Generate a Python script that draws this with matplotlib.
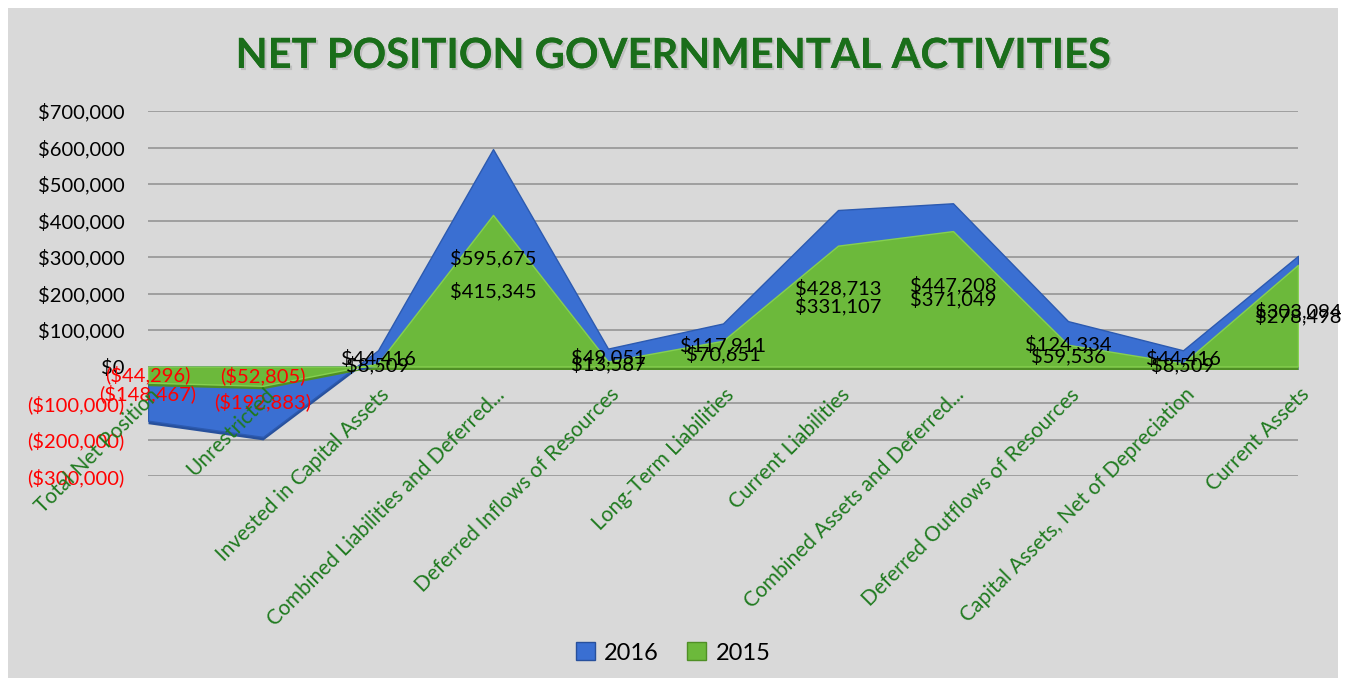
import matplotlib.pyplot as plt
import matplotlib.patheffects as pe
import matplotlib.transforms as mtransforms
from matplotlib.patches import Rectangle
import numpy as np

plt.rcParams['font.family'] = ['Lato', 'DejaVu Sans']

categories = ["Total Net Position", "Unrestricted", "Invested in Capital Assets",
              "Combined Liabilities and Deferred...", "Deferred Inflows of Resources",
              "Long-Term Liabilities", "Current Liabilities",
              "Combined Assets and Deferred...", "Deferred Outflows of Resources",
              "Capital Assets, Net of Depreciation", "Current Assets"]
values_2016 = [-148467, -192883, 44416, 595675, 49051, 117911, 428713, 447208, 124334, 44416, 303094]
values_2015 = [-44296, -52805, 8509, 415345, 13587, 70651, 331107, 371049, 59536, 8509, 278498]
yticks = [-300000, -200000, -100000, 0, 100000, 200000, 300000, 400000, 500000, 600000, 700000]

blue = "#3a6fd2"
green = "#6cb93b"
title_green = "#1a6e1a"
cat_green = "#1f7a1f"


def money(v):
    if v < 0:
        return "(${:,.0f})".format(-v)
    return "${:,.0f}".format(v)


fig = plt.figure(figsize=(13.46, 6.86), dpi=100, facecolor="white")
fig.patches.append(Rectangle((8 / 1346, 8 / 686), 1 - 16 / 1346, 1 - 16 / 686,
                             transform=fig.transFigure, facecolor="#d9d9d9",
                             edgecolor="none", zorder=-5))

ax = fig.add_axes([148 / 1346, 1 - 476 / 686, 1150 / 1346, 365 / 686])
ax.set_facecolor("none")
x = np.arange(len(categories))

for t in yticks:
    ax.axhline(t, color="#9a9a9a", lw=1.3, zorder=1)

# fake 3d depth: darker copy slightly lower
shift = ax.transData + mtransforms.ScaledTranslation(0, -3 / 100, fig.dpi_scale_trans)
ax.fill_between(x, values_2016, 0, color="#27509c", lw=0, zorder=2, transform=shift)
ax.fill_between(x, values_2016, 0, color=blue, edgecolor="#2c5ab0", lw=1, zorder=3)
ax.fill_between(x, values_2015, 0, color="#4f8f25", lw=0, zorder=4, transform=shift)
ax.fill_between(x, values_2015, 0, color=green, edgecolor="#86d050", lw=1, zorder=5)

for xi, v in zip(x, values_2016):
    ax.text(xi, v / 2, money(v), ha="center", va="center", fontsize=14.5,
            color="red" if v < 0 else "black", zorder=7)
for xi, v in zip(x, values_2015):
    ax.text(xi, v / 2, money(v), ha="center", va="center", fontsize=14.5,
            color="red" if v < 0 else "black", zorder=7)

ax.set_xlim(0, len(categories) - 1)
ax.set_ylim(-300000, 700000)
ax.set_yticks(yticks)
ax.set_yticklabels([money(t) for t in yticks], fontsize=14.5)
for lab, t in zip(ax.get_yticklabels(), yticks):
    lab.set_color("red" if t < 0 else "black")
ax.tick_params(axis="y", length=0, pad=17)
ax.set_xticks([])
for s in ax.spines.values():
    s.set_visible(False)

for xi, c in zip(x, categories):
    ax.annotate(c, (xi, 0), xytext=(1, -13), textcoords="offset points",
                rotation=45, ha="right", va="top", rotation_mode="anchor",
                fontsize=15, color=cat_green, zorder=8)

fig.text(0.5, 1 - 56 / 686, "NET POSITION GOVERNMENTAL ACTIVITIES", ha="center", va="center",
         fontsize=30, fontweight="bold", color=title_green,
         path_effects=[pe.withSimplePatchShadow(offset=(1.5, -1.5), shadow_rgbFace="#999999", alpha=0.4),
                       pe.Normal()])

handles = [Rectangle((0, 0), 1, 1, facecolor=blue, edgecolor="#27509c"),
           Rectangle((0, 0), 1, 1, facecolor=green, edgecolor="#4f8f25")]
fig.legend(handles, ["2016", "2015"], loc="center", bbox_to_anchor=(0.5, 1 - 653 / 686),
           ncol=2, frameon=False, fontsize=17, handlelength=0.8, handleheight=0.8,
           handletextpad=0.4, columnspacing=1.2)

fig.savefig("out.png", dpi=100, facecolor=fig.get_facecolor())
